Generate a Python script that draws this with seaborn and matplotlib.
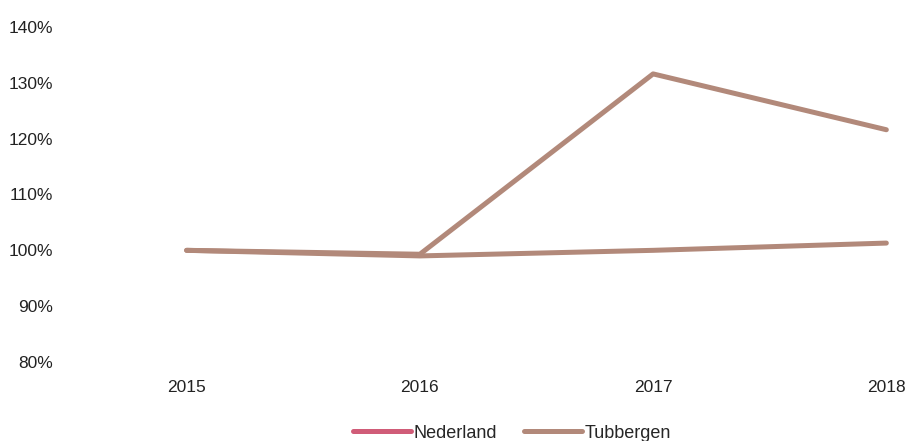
import numpy as np
import pandas as pd
import matplotlib.pyplot as plt
import seaborn as sns
from matplotlib.lines import Line2D

years = [2015, 2016, 2017, 2018]
nederland = [100.0, 99.0, 100.0, 101.3]
tubbergen = [100.0, 99.3, 131.6, 121.6]
y_ticks = [80, 90, 100, 110, 120, 130, 140]

brown = '#b2897a'
pink = '#d05c78'

df = pd.DataFrame({
    'jaar': years * 2,
    'waarde': nederland + tubbergen,
    'gebied': ['Nederland'] * 4 + ['Tubbergen'] * 4,
})

sns.set_style('white')
plt.rcParams['font.family'] = ['Liberation Sans', 'DejaVu Sans']

fig = plt.figure(figsize=(9.09, 4.41), dpi=100)
ax = fig.add_axes([70 / 909, 1 - 362 / 441, 835 / 909, 335 / 441])

# both lines show up brown in the original
sns.lineplot(data=df, x='jaar', y='waarde', hue='gebied',
             palette={'Nederland': brown, 'Tubbergen': brown},
             linewidth=3.6, legend=False, ax=ax)

ax.set_xlim(2014.5, 2018.08)
ax.set_ylim(80, 140)
ax.set_xticks(years)
ax.set_xticklabels([str(y) for y in years], fontsize=12.5, color='#222222')
ax.set_yticks(y_ticks)
ax.set_yticklabels([f'{v}%' for v in y_ticks], fontsize=12.5, color='#222222')
ax.tick_params(axis='x', pad=13, length=0)
ax.tick_params(axis='y', pad=12, length=0)
for lbl in ax.get_yticklabels():
    lbl.set_horizontalalignment('right')
ax.set_xlabel('')
ax.set_ylabel('')
sns.despine(ax=ax, left=True, bottom=True)

handles = [Line2D([0], [0], color=pink, lw=3.6),
           Line2D([0], [0], color=brown, lw=3.6)]
fig.legend(handles, ['Nederland', 'Tubbergen'], loc='center',
           bbox_to_anchor=(512 / 909, 1 - 433 / 441), ncol=2, frameon=False,
           fontsize=13, handlelength=3.2, handletextpad=0.15, columnspacing=1.5)

fig.savefig('out.png', dpi=100)
